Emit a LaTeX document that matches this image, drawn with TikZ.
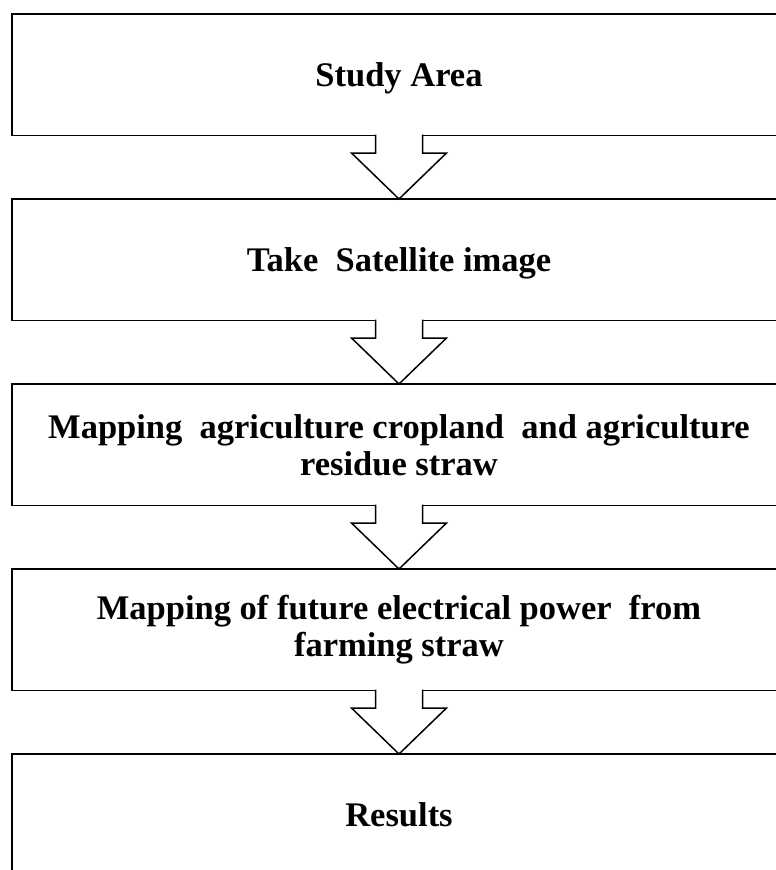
\documentclass[tikz,border=0pt]{standalone}
\usepackage{fontspec}
\setmainfont{Liberation Serif}
\usepackage{tikz}
\usetikzlibrary{positioning}
\tikzset{stagebox/.style={draw, line width=1.8pt, outer sep=0pt, inner sep=0pt, minimum width=774pt, minimum height=121.5pt, align=center, font=\fontsize{34.5}{37}\selectfont\bfseries}}
\tikzset{blockarrow/.style={draw, line width=1.5pt, fill=white, line join=miter,
  to path={([xshift=-23.5pt,yshift=1pt]\tikztostart) -- ([xshift=-23.5pt,yshift=-17.5pt]\tikztostart) -- ([xshift=-47.5pt,yshift=-17.5pt]\tikztostart) -- (\tikztotarget) -- ([xshift=47.5pt,yshift=-17.5pt]\tikztostart) -- ([xshift=23.5pt,yshift=-17.5pt]\tikztostart) -- ([xshift=23.5pt,yshift=1pt]\tikztostart)}}}

\begin{document}
\begin{tikzpicture}
\useasboundingbox (0pt,0pt) rectangle (776pt,-870pt);
\node[stagebox, text depth=0pt] (study) at (399pt,-74.75pt) {Study Area};
\node[stagebox, text depth=0pt, below=63.5pt of study] (satellite) {Take\ \ Satellite image};
\node[stagebox, below=63.5pt of satellite] (cropland) {Mapping\ \ agriculture cropland\ \ and agriculture\\residue straw};
\node[stagebox, below=63.5pt of cropland] (power) {Mapping of future electrical power\ \ from\\farming straw};
\node[stagebox, below=63.5pt of power] (results) {Results};
\draw[blockarrow] (study.south) to (satellite.north);
\draw[blockarrow] (satellite.south) to (cropland.north);
\draw[blockarrow] (cropland.south) to (power.north);
\draw[blockarrow] (power.south) to (results.north);
\end{tikzpicture}
\end{document}
